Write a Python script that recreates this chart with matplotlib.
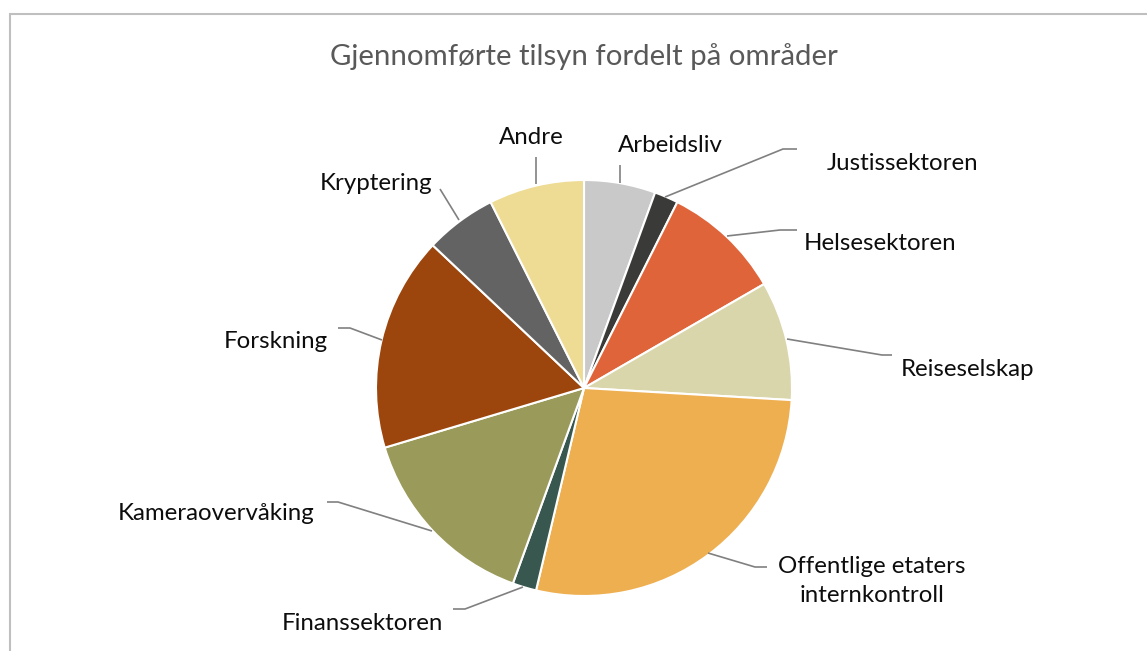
import matplotlib
matplotlib.use('Agg')
import matplotlib.pyplot as plt
from matplotlib.patches import Rectangle

plt.rcParams['font.family'] = ['Lato', 'DejaVu Sans']

# antall tilsyn per område (med klokka fra toppen)
omrader = ['Arbeidsliv', 'Justissektoren', 'Helsesektoren', 'Reiseselskap',
           'Offentlige etaters\ninternkontroll', 'Finanssektoren',
           'Kameraovervåking', 'Forskning', 'Kryptering', 'Andre']
antall = [3, 1, 5, 5, 15, 1, 8, 9, 3, 4]
farger = ['#C9C9C9', '#3A3A38', '#DF643A', '#DAD6AC', '#EEAF51',
          '#37574F', '#9A9A5B', '#9C450C', '#636363', '#EEDC94']

W, H = 1147, 651
cx, cy, r = 584, 388, 208


def px(x, y):
    # piksel -> datakoordinater (radius 1 = r piksler)
    return (x - cx) / r, (cy - y) / r


# etikettplassering og knekkpunkter for linjer (piksler)
tekst_pos = [(670, 145), (903, 163), (880, 244), (968, 369), (872, 581),
             (362, 623), (216, 513), (276, 342), (376, 183), (531, 137)]
linjer = [
    [(620, 183), (620, 165)],
    [(665, 197), (783, 149), (797, 149)],
    [(727, 236), (780, 230), (797, 230)],
    [(787, 339), (882, 355), (892, 355)],
    [(708, 553), (755, 567), (767, 567)],
    [(523, 587), (465, 609), (453, 609)],
    [(432, 531), (338, 502), (327, 502)],
    [(382, 340), (350, 328), (338, 328)],
    [(459, 220), (440, 189)],
    [(536, 184), (536, 157)],
]

fig = plt.figure(figsize=(W / 100, H / 100), dpi=100)
ax = fig.add_axes([0, 0, 1, 1])

ax.pie(antall, colors=farger, startangle=90, counterclock=False, radius=1,
       wedgeprops=dict(edgecolor='white', linewidth=1.5))

ax.set_xlim(-cx / r, (W - cx) / r)
ax.set_ylim((cy - H) / r, cy / r)
ax.set_aspect('equal')
ax.axis('off')

for pts in linjer:
    xs = [px(*p)[0] for p in pts]
    ys = [px(*p)[1] for p in pts]
    ax.plot(xs, ys, color='#808080', lw=1.2, solid_capstyle='butt')

for navn, pos in zip(omrader, tekst_pos):
    x, y = px(*pos)
    ax.text(x, y, navn, ha='center', va='center', fontsize=17.3,
            color='#0D0D0D', linespacing=1.5)

fig.text(cx / W, 1 - 57 / H, 'Gjennomførte tilsyn fordelt på områder',
         ha='center', va='center', fontsize=21.2, color='#595959')

fig.patches.append(Rectangle((10 / W, -0.1), 1.2, 1.1 - 14 / H,
                             transform=fig.transFigure, fill=False,
                             edgecolor='#BFBFBF', lw=1.5))

fig.savefig('out.png', dpi=100)
